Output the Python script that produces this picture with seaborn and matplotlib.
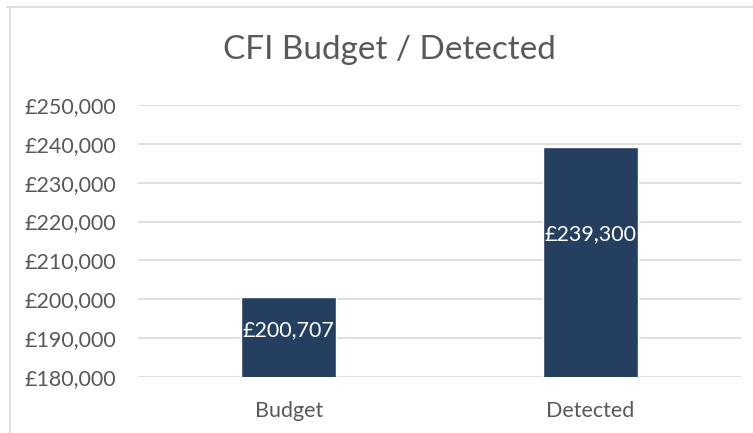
import matplotlib
matplotlib.use('Agg')
import matplotlib.pyplot as plt
import seaborn as sns
import pandas as pd
from matplotlib.lines import Line2D
from matplotlib.ticker import FuncFormatter

# Chart data
categories = ['Budget', 'Detected']
values = [200707, 239300]
label_y = [192100, 216800]   # where the value labels sit
y_ticks = [180000, 190000, 200000, 210000, 220000, 230000, 240000, 250000]

df = pd.DataFrame({'cat': categories, 'val': values})

sns.set_theme(style='white')
plt.rcParams['font.family'] = ['Lato', 'DejaVu Sans']

text_col = '#595959'
bar_col = '#243F60'

fig = plt.figure(figsize=(7.53, 4.33), dpi=100)
ax = fig.add_axes([138 / 753, (433 - 377) / 433, (741 - 138) / 753, (377 - 105) / 433])

sns.barplot(data=df, x='cat', y='val', color=bar_col, width=0.315, ax=ax, saturation=1)

ax.set_ylim(180000, 250000)
ax.set_yticks(y_ticks)
ax.yaxis.set_major_formatter(FuncFormatter(lambda v, p: f'£{int(v):,}'))
ax.grid(axis='y', color='#D9D9D9', linewidth=1.2)
ax.set_axisbelow(True)
for s in ax.spines.values():
    s.set_visible(False)
ax.set_xlabel('')
ax.set_ylabel('')
ax.tick_params(axis='y', length=0, pad=16, labelsize=15.5, labelcolor=text_col)
ax.tick_params(axis='x', length=0, pad=17, labelsize=15.5, labelcolor=text_col)

# value labels inside bars
for i, v in enumerate(values):
    ax.text(i, label_y[i], f'£{v:,}', ha='center', va='center',
            color='white', fontsize=15.5)

fig.text(389 / 753, 1 - 50 / 433, 'CFI Budget / Detected', ha='center', va='center',
         fontsize=24, color=text_col)

# chart frame (partly visible)
fig.add_artist(Line2D([7 / 753, 1], [1 - 7 / 433, 1 - 7 / 433], color='#D9D9D9', linewidth=1.2,
                      transform=fig.transFigure))
fig.add_artist(Line2D([10 / 753, 10 / 753], [0, 1 - 7 / 433], color='#D9D9D9', linewidth=1.2,
                      transform=fig.transFigure))

fig.savefig('out.png', dpi=100)
